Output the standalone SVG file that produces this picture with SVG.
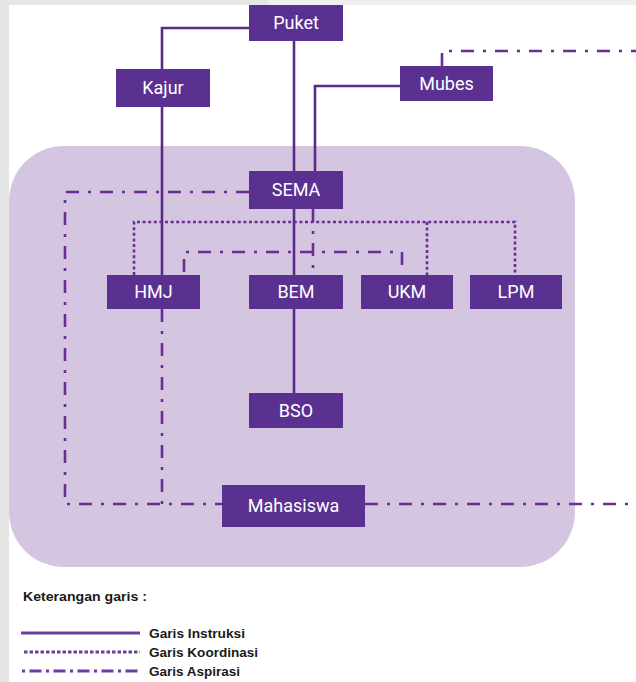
<svg xmlns="http://www.w3.org/2000/svg" width="636" height="682" viewBox="0 0 636 682">
<style>
.box{fill:#5a3191}
.lbl{fill:#ffffff;font-family:Roboto,"Liberation Sans",sans-serif;font-size:18px;text-anchor:middle}
.ins{fill:none;stroke:#5b2a8c;stroke-width:2.6}
.koo{fill:none;stroke:#6a2d94;stroke-width:2.6;stroke-dasharray:3 2.6}
.asp{fill:none;stroke:#6a2d94;stroke-width:2.6;stroke-dasharray:13 9 3 9}
.leg{fill:#1a1a1a;font-family:"Liberation Sans",Arial,sans-serif;font-weight:bold;font-size:12px}
.lgl{fill:none;stroke:#6b3fa2;stroke-width:3}
</style>
<rect x="0" y="0" width="636" height="682" fill="#ffffff"/>
<rect x="0" y="0" width="9" height="682" fill="#e6e6e6"/>
<rect x="0" y="0" width="268" height="5" fill="#e6e6e6"/>
<rect x="268" y="0" width="368" height="5" fill="#efefef"/>
<rect id="area" x="9" y="146" width="566" height="421" rx="55" ry="55" fill="#d4c6e1"/>
<g id="connectors">
<path class="ins" d="M249,28 H162 V69"/>
<path class="ins" d="M162,107 V275"/>
<path class="ins" d="M294,41 V171"/>
<path class="ins" d="M400,86 H315 V171"/>
<path class="ins" d="M294,209 V275"/>
<path class="ins" d="M294,309 V393"/>
<path class="koo" d="M134,275 V222 H515 V275"/>
<path class="koo" d="M427,222 V275"/>
<path class="asp" d="M442,66 V51 H636"/>
<path class="asp" d="M249,192 H65 V504 H222"/>
<path class="asp" d="M162,309 V504"/>
<path class="asp" d="M365,504 H636"/>
<path class="asp" d="M184,272 V252 H402 V272"/>
<path class="asp" d="M313,209 V275"/>
</g>
<g id="puket"><rect class="box" x="249" y="5" width="94" height="36"/><text class="lbl" x="296" y="29">Puket</text></g>
<g id="kajur"><rect class="box" x="116" y="69" width="94" height="38"/><text class="lbl" x="163" y="94">Kajur</text></g>
<g id="mubes"><rect class="box" x="400" y="66" width="93" height="35"/><text class="lbl" x="446.5" y="90">Mubes</text></g>
<g id="sema"><rect class="box" x="249" y="171" width="94" height="38"/><text class="lbl" x="296" y="196">SEMA</text></g>
<g id="hmj"><rect class="box" x="107" y="275" width="93" height="34"/><text class="lbl" x="153.5" y="298">HMJ</text></g>
<g id="bem"><rect class="box" x="249" y="275" width="94" height="34"/><text class="lbl" x="296" y="298">BEM</text></g>
<g id="ukm"><rect class="box" x="361" y="275" width="92" height="34"/><text class="lbl" x="407" y="298">UKM</text></g>
<g id="lpm"><rect class="box" x="470" y="275" width="92" height="34"/><text class="lbl" x="516" y="298">LPM</text></g>
<g id="bso"><rect class="box" x="249" y="393" width="94" height="35"/><text class="lbl" x="296" y="417">BSO</text></g>
<g id="mahasiswa"><rect class="box" x="222" y="485" width="143" height="42"/><text class="lbl" x="293.5" y="512">Mahasiswa</text></g>
<g id="legend">
<text class="leg" x="23" y="601" textLength="124" lengthAdjust="spacingAndGlyphs">Keterangan garis :</text>
<line class="lgl" x1="21" y1="633" x2="140" y2="633"/>
<line class="lgl" x1="24" y1="652" x2="140" y2="652" stroke-dasharray="3.5 2"/>
<line class="lgl" x1="22" y1="671" x2="140" y2="671" stroke-dasharray="3 4.5 12 4.5"/>
<text class="leg" x="149" y="638" textLength="96" lengthAdjust="spacingAndGlyphs">Garis Instruksi</text>
<text class="leg" x="149" y="657" textLength="109" lengthAdjust="spacingAndGlyphs">Garis Koordinasi</text>
<text class="leg" x="149" y="676" textLength="91" lengthAdjust="spacingAndGlyphs">Garis Aspirasi</text>
</g>
</svg>
